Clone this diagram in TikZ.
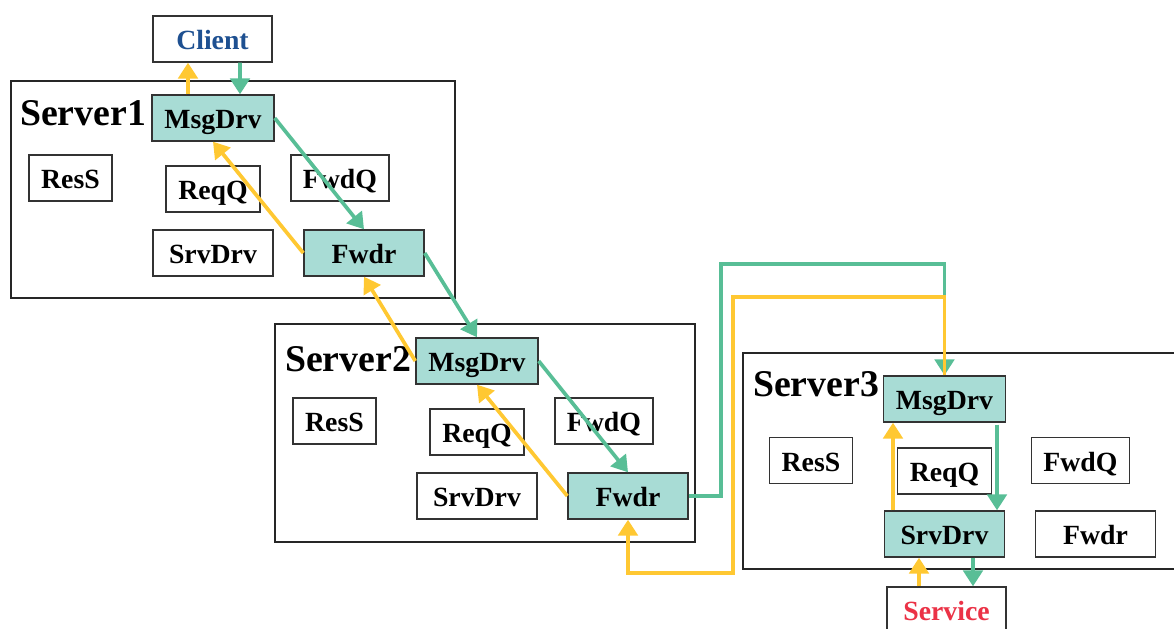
\documentclass[tikz,border=0pt]{standalone}
\usepackage{fontspec}
\setmainfont{Liberation Serif}
\usepackage{xcolor}
\usepackage{tikz}
\usetikzlibrary{positioning,calc,arrows.meta}

\definecolor{drvfill}{RGB}{168,220,213}
\definecolor{reqgreen}{RGB}{88,190,150}
\definecolor{repyellow}{RGB}{255,200,50}
\definecolor{clientblue}{RGB}{30,80,145}
\definecolor{servicered}{RGB}{235,50,70}

\tikzset{
    comp/.style={draw=black!80, line width=0.8pt, fill=white, minimum height=0.92cm,
        inner sep=0pt, text height=13pt, text depth=1pt,
        font=\fontsize{15.8}{18}\selectfont\bfseries},
    drv/.style={comp, fill=drvfill},
    srvbox/.style={draw=black!85, line width=0.8pt},
    srvlabel/.style={font=\fontsize{21.5}{25}\selectfont\bfseries, inner sep=0pt},
    reqflow/.style={draw=reqgreen, line width=2.1pt, -{Triangle[width=11pt,length=9pt]}},
    repflow/.style={draw=repyellow, line width=2.1pt, -{Triangle[width=11pt,length=9pt]}}
}

\begin{document}
\begin{tikzpicture}[x=0.02cm, y=-0.02cm]
    \useasboundingbox (0,0) rectangle (1174,629);

    % Server boxes
    \draw[srvbox] (11,81) rectangle (455,298);
    \draw[srvbox] (275,324) rectangle (695,542);
    \draw[srvbox] (743,353) rectangle (1190,569);
    \node[srvlabel] (labA) at (83,113) {Server1};
    \node[srvlabel] (labB) at (348,359) {Server2};
    \node[srvlabel] (labC) at (816,384) {Server3};

    % Client and service
    \node[comp, minimum width=2.38cm, text=clientblue] (client) at (212.5,39) {Client};
    \node[comp, minimum width=2.38cm, text=servicered] (service) at (946.5,610) {Service};

    % Server1
    \node[drv, minimum width=2.44cm] (msgA) at (213,118) {MsgDrv};
    \node[comp, minimum width=1.66cm] (ressA) at (70.5,178) {ResS};
    \node[comp, minimum width=1.88cm] (reqqA) at (213,189) {ReqQ};
    \node[comp, minimum width=1.96cm] (fwdqA) at (340,178) {FwdQ};
    \node[comp, minimum width=2.40cm] (srvA) at (213,253) {SrvDrv};
    \node[drv, minimum width=2.40cm] (fwdrA) at (364,253) {Fwdr};

    % Server2
    \node[drv, minimum width=2.44cm] (msgB) at (477,361) {MsgDrv};
    \node[comp, minimum width=1.66cm] (ressB) at (334.5,421) {ResS};
    \node[comp, minimum width=1.88cm] (reqqB) at (477,432) {ReqQ};
    \node[comp, minimum width=1.96cm] (fwdqB) at (604,421) {FwdQ};
    \node[comp, minimum width=2.40cm] (srvB) at (477,496) {SrvDrv};
    \node[drv, minimum width=2.40cm] (fwdrB) at (628,496) {Fwdr};

    % Server3
    \node[drv, minimum width=2.44cm] (msgC) at (944.5,399) {MsgDrv};
    \node[comp, minimum width=1.66cm] (ressC) at (811,460.5) {ResS};
    \node[comp, minimum width=1.88cm] (reqqC) at (944.5,471) {ReqQ};
    \node[comp, minimum width=1.96cm] (fwdqC) at (1080.5,460.5) {FwdQ};
    \node[drv, minimum width=2.40cm] (srvC) at (944.5,534) {SrvDrv};
    \node[comp, minimum width=2.40cm] (fwdrC) at (1095.5,534) {Fwdr};

    % Request path
    \draw[reqflow] ($(client.south)+(27.5,0)$) -- ($(msgA.north)+(27,0)$);
    \draw[reqflow] (msgA.east) -- (fwdrA.north);
    \draw[reqflow] (fwdrA.east) -- (msgB.north);
    \draw[reqflow] (msgB.east) -- (fwdrB.north);
    \draw[reqflow] (fwdrB.east) -| (721,264) -| (msgC.north);
    \draw[reqflow] ($(msgC.south)+(52.5,2)$) -- ($(srvC.north)+(52.5,0)$);
    \draw[reqflow] ($(srvC.south)+(28.5,0)$) -- ($(service.north)+(26.5,0)$);

    % Reply path
    \draw[repflow] ($(service.north)+(-27.5,0)$) -- ($(srvC.south)+(-25.5,0)$);
    \draw[repflow] ($(srvC.north)+(-51.5,0)$) -- ($(msgC.south)+(-51.5,0)$);
    \draw[repflow] (msgC.north) |- (733,297) |- (628,573) -- (fwdrB.south);
    \draw[repflow] (fwdrB.west) -- (msgB.south);
    \draw[repflow] (msgB.west) -- (fwdrA.south);
    \draw[repflow] (fwdrA.west) -- (msgA.south);
    \draw[repflow] ($(msgA.north)+(-25,0)$) -- ($(client.south)+(-24.5,0)$);
\end{tikzpicture}
\end{document}
